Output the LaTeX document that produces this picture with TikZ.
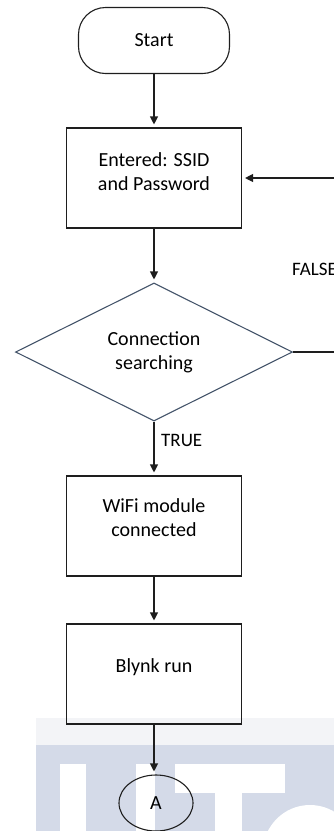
\documentclass[tikz,border=0pt]{standalone}
\usepackage{fontspec}
\setmainfont{Carlito}
\usetikzlibrary{arrows.meta,shapes.geometric}
\definecolor{wmgray}{RGB}{212,218,232}
\definecolor{wmband}{RGB}{243,244,247}
\definecolor{decblue}{RGB}{68,84,106}
\definecolor{ink}{RGB}{30,30,30}
\tikzset{
  procbox/.style={draw=ink, line width=1.1pt, minimum width=175pt, minimum height=100pt, inner sep=0pt},
  terminal/.style={draw=ink, line width=1.1pt, rounded corners=27pt, minimum width=151pt, minimum height=66pt, inner sep=0pt},
  decision/.style={draw=decblue, line width=1.1pt, diamond, aspect=2, minimum width=277pt, minimum height=138pt, inner sep=0pt, align=center},
  connector/.style={draw=ink, line width=1.1pt, ellipse, minimum width=74pt, minimum height=56pt, inner sep=0pt},
  flow/.style={draw=ink, line width=1.1pt, -{Triangle[length=8pt,width=8pt]}, shorten >=3pt},
  boxtext/.style={align=center, inner sep=0pt}
}
\begin{document}
\begin{tikzpicture}[x=1pt, y=-1pt, font=\fontsize{20}{24}\selectfont]
\clip (0,0) rectangle (334,831);

% watermark in the lower part of the page
\fill[wmband] (36,718) rectangle (334,745);
\fill[wmgray] (36,745) rectangle (334,831);
\fill[white] (60,764) rectangle (86,831);
\fill[white] (136,764) rectangle (155,831);
\fill[white] (175,764) rectangle (285,793);
\fill[white] (215,793) rectangle (242,831);
\fill[white] (310,852) circle (47);

% flowchart nodes
\node[terminal] (start) at (154,40.5) {Start};
\node[procbox] (entered) at (154,178) {};
\node[boxtext] (enteredtxt) at (154,172) {Entered: SSID\\and Password};
\node[decision] (search) at (154,352) {Connection\\searching};
\node[procbox] (wifi) at (154,526) {};
\node[boxtext] (wifitxt) at (154,518) {WiFi module\\connected};
\node[procbox] (blynk) at (154,674) {};
\node[boxtext] (blynktxt) at (154,667) {Blynk run};
\node[connector] (pageA) at (156,803) {A};

% connectors
\draw[flow] (start) -- (entered);
\draw[flow] (entered) -- (search);
\draw[flow] (search) -- (wifi);
\draw[flow] (wifi) -- (blynk);
\draw[flow] (blynk.south) -- (blynk.south |- pageA.north);
\draw[flow] (search.east) -- ++(60,0) |- (entered.east);

% branch labels
\node[anchor=west, inner sep=0pt, font=\fontsize{19}{23}\selectfont] (truelbl) at (161,440) {TRUE};
\node[anchor=west, inner sep=0pt, font=\fontsize{19}{23}\selectfont] (falselbl) at (292,269) {FALSE};
\end{tikzpicture}
\end{document}
